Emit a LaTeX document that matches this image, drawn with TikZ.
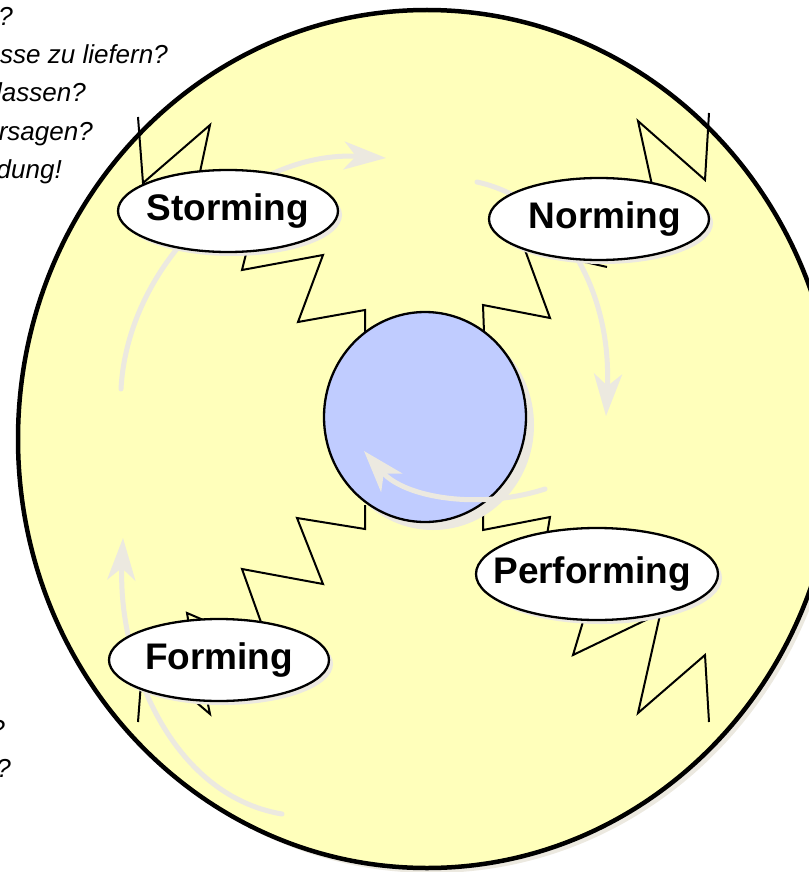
\documentclass[tikz,border=0pt]{standalone}
\usepackage{fontspec}
\setmainfont{Liberation Sans}
\usepackage{xcolor}
\usetikzlibrary{arrows.meta,shapes.geometric,shadows}

\definecolor{padyellow}{RGB}{255,255,187}
\definecolor{coreblue}{RGB}{192,204,255}
\definecolor{shadegrey}{RGB}{236,233,224}

\begin{document}
\begin{tikzpicture}[x=1pt, y=-1pt,
  padring/.style={ellipse, draw=black, line width=4.5pt, fill=padyellow, inner sep=0pt,
    minimum width=818pt, minimum height=858pt,
    drop shadow={shadow xshift=5pt, shadow yshift=-5pt, fill=shadegrey, opacity=1}},
  corering/.style={ellipse, draw=black, line width=2.3pt, fill=coreblue, inner sep=0pt,
    minimum width=202pt, minimum height=210pt,
    drop shadow={shadow xshift=8pt, shadow yshift=-8pt, fill=shadegrey, opacity=1}},
  phasebox/.style={ellipse, draw=black, line width=2.3pt, fill=white, inner sep=0pt,
    minimum width=220pt, minimum height=82pt,
    drop shadow={shadow xshift=4pt, shadow yshift=-4pt, fill=shadegrey, opacity=1}},
  phasetext/.style={font=\fontsize{37}{40}\selectfont\bfseries, inner sep=0pt},
  bolt/.style={draw=black, line width=2pt},
  flow/.style={draw=shadegrey, line width=5pt, line cap=round,
    -{Stealth[length=42pt, width=28pt, inset=12pt]}},
  note/.style={font=\fontsize{26}{30}\selectfont\itshape, anchor=base east, inner sep=0pt}
]
\useasboundingbox (0,0) rectangle (808,872);

\node[note] (n1) at (13,26)  {?};
\node[note] (n2) at (168,64) {sse zu liefern?};
\node[note] (n3) at (86,102) {lassen?};
\node[note] (n4) at (93,140) {rsagen?};
\node[note] (n5) at (62,178) {dung!};
\node[note] (n6) at (5,738)  {?};
\node[note] (n7) at (11,777) {?};

\node[padring] (pad) at (427,439) {};

\draw[bolt] (138,117) -- (143,183) -- (210,125) -- (200,172);
\draw[bolt] (247,250) -- (242,270) -- (323,255) -- (298,322) -- (365,310) -- (365,335);
\draw[bolt] (652,185) -- (638,121) -- (705,180) -- (709,113);
\draw[bolt] (525,250) -- (550,318) -- (483,305) -- (484,332);
\draw[bolt] (585,262) -- (607,267);
\draw[bolt] (262,625) -- (242,569) -- (323,584) -- (297,518) -- (365,529) -- (365,505);
\draw[bolt] (138,722) -- (143,657) -- (210,714) -- (205,690);
\draw[bolt] (189,625) -- (187,613) -- (215,625);
\draw[bolt] (483,512) -- (483,530) -- (550,517) -- (547,535);
\draw[bolt] (585,615) -- (573,655) -- (650,618);
\draw[bolt] (660,615) -- (638,713) -- (705,655) -- (709,722);

\node[corering] (core) at (425,417) {};

\draw[flow] (121,389) .. controls (128,260) and (250,150) .. (386,158);
\draw[flow] (477,182) .. controls (560,200) and (612,290) .. (606,416);
\draw[flow] (545,489) .. controls (480,510) and (405,498) .. (364,451);
\draw[flow] (282,814) .. controls (170,795) and (118,660) .. (123,538);

\node[phasebox, label={[phasetext]center:Storming}] (storming) at (228,211) {};
\node[phasebox, label={[phasetext, xshift=6pt]center:Norming}] (norming) at (599,219) {};
\node[phasebox, minimum width=242pt, minimum height=92pt,
  label={[phasetext, xshift=-5pt]center:Performing}] (performing) at (597,574) {};
\node[phasebox, label={[phasetext]center:Forming}] (forming) at (219,660) {};
\end{tikzpicture}
\end{document}
